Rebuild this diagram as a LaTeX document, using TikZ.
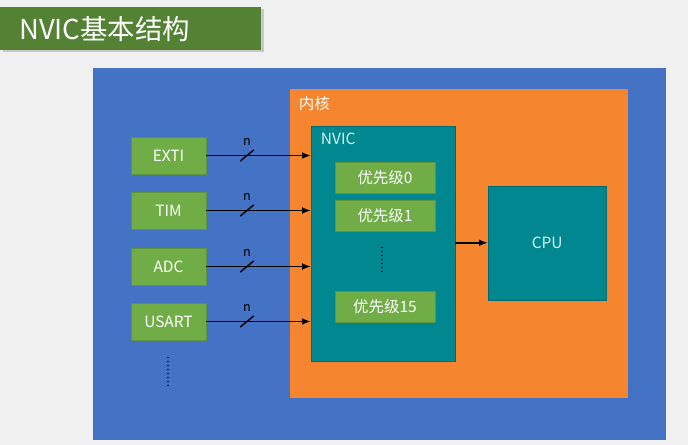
\documentclass[tikz,border=0pt]{standalone}
\usepackage{fontspec}
\setmainfont{Noto Sans CJK SC}
\usetikzlibrary{positioning, calc, arrows.meta, shadows}
\definecolor{Paper}{HTML}{F0F0F0}
\definecolor{Board}{HTML}{4472C4}
\definecolor{Core}{HTML}{F5852E}
\definecolor{Teal}{HTML}{00878F}
\definecolor{Leaf}{HTML}{70AD47}
\definecolor{Title}{HTML}{548235}
\definecolor{Ice}{HTML}{D2F4F4}
\tikzset{
    srcbox/.style={rectangle, fill=Leaf, draw=Leaf!85!black, line width=0.3pt, text=white, minimum width=1.875cm, minimum height=0.925cm, inner sep=0pt, font=\fontsize{11}{13}\selectfont},
    prionode/.style={rectangle, fill=Leaf, draw=Leaf!85!black, line width=0.3pt, text=white, minimum width=2.5cm, minimum height=0.775cm, inner sep=0pt, font=\fontsize{11}{13}\selectfont},
    panel/.style={rectangle, anchor=south west, inner sep=0pt},
    arrow/.style={-{Latex[length=2.2mm]}, line width=1.2pt, color=black},
    slash/.style={line width=1pt, color=black},
}
\begin{document}
\begin{tikzpicture}
    \useasboundingbox[fill=Paper] (0,0) rectangle (17.2,11.125);

    % Titolo
    \node[panel, fill=Title, minimum width=6.525cm, minimum height=1.075cm, drop shadow={opacity=0.35, shadow xshift=0.06cm, shadow yshift=-0.06cm}] (title) at (0,9.875) {};
    \node[anchor=west, text=white, font=\fontsize{19.5}{23}\selectfont] at (0.36,10.41) {NVIC基本结构};

    % Riquadri di sfondo
    \node[panel, fill=Board, minimum width=14.325cm, minimum height=9.3cm] (board) at (2.325,0.125) {};
    \node[panel, fill=Core, minimum width=8.45cm, minimum height=7.725cm] (core) at (7.25,1.175) {};
    \node[anchor=north west, text=white, font=\fontsize{11}{13}\selectfont] at (7.35,8.85) {内核};

    \node[panel, fill=Teal, draw=Teal!80!black, line width=0.3pt, minimum width=3.6cm, minimum height=5.875cm] (nvic) at (7.775,2.1) {};
    \node[anchor=north west, text=Ice, font=\fontsize{11}{13}\selectfont] at (7.9,7.92) {NVIC};

    \node[panel, fill=Teal, draw=Teal!80!black, line width=0.3pt, minimum width=2.95cm, minimum height=2.85cm] (cpu) at (12.2,3.625) {};
    \node[text=Ice, font=\fontsize{11}{13}\selectfont] at (cpu.center) {CPU};

    % Livelli di priorita
    \node[prionode] (p0) at (9.625,6.6875) {优先级0};
    \node[prionode] (p1) at (9.625,5.7375) {优先级1};
    \node[prionode] (p15) at (9.625,3.45) {优先级15};
    \draw[dotted, thick] (9.55,4.95) -- (9.55,4.3);

    % Periferiche
    \node[srcbox] (exti) at (4.2125,7.2375) {EXTI};
    \node[srcbox] (tim) at (4.2125,5.8625) {TIM};
    \node[srcbox] (adc) at (4.2125,4.4625) {ADC};
    \node[srcbox] (usart) at (4.2125,3.0875) {USART};
    \draw[dotted, thick] (4.2,2.2) -- (4.2,1.5);

    % Frecce di ingresso
    \draw[arrow] (exti.east) -- (exti.east -| nvic.west);
    \draw[arrow] (tim.east) -- (tim.east -| nvic.west);
    \draw[arrow] (adc.east) -- (adc.east -| nvic.west);
    \draw[arrow] (usart.east) -- (usart.east -| nvic.west);

    % Tratti n
    \coordinate (s1) at (6.175,7.2375);
    \coordinate (s2) at (6.175,5.8625);
    \coordinate (s3) at (6.175,4.4625);
    \coordinate (s4) at (6.175,3.0875);
    \draw[slash] ($(s1)+(-0.17,-0.14)$) -- ($(s1)+(0.17,0.14)$);
    \draw[slash] ($(s2)+(-0.17,-0.14)$) -- ($(s2)+(0.17,0.14)$);
    \draw[slash] ($(s3)+(-0.17,-0.14)$) -- ($(s3)+(0.17,0.14)$);
    \draw[slash] ($(s4)+(-0.17,-0.14)$) -- ($(s4)+(0.17,0.14)$);
    \node[above=0.12cm of s1, font=\small] {n};
    \node[above=0.12cm of s2, font=\small] {n};
    \node[above=0.12cm of s3, font=\small] {n};
    \node[above=0.12cm of s4, font=\small] {n};

    % NVIC -> CPU
    \draw[arrow] (nvic.east |- cpu.west) -- (cpu.west);
\end{tikzpicture}
\end{document}
